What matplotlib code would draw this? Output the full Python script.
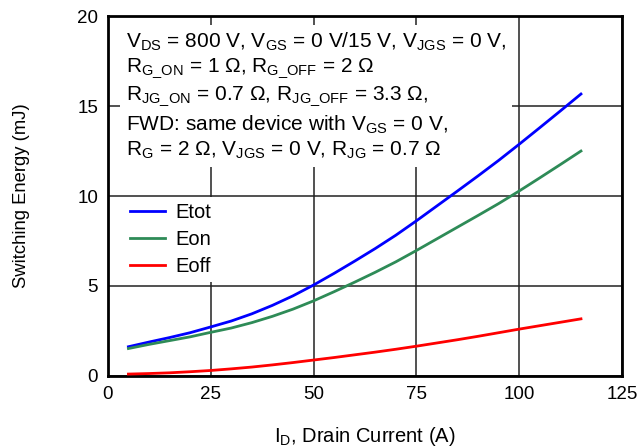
import numpy as np
import matplotlib
matplotlib.use("Agg")
import matplotlib.pyplot as plt

plt.rcParams['font.family'] = ['Liberation Sans', 'DejaVu Sans']
plt.rcParams['mathtext.fontset'] = 'custom'
plt.rcParams['mathtext.rm'] = 'Liberation Sans'

# drain current (A) and switching energies (mJ)
current = [5, 10, 15, 20, 25, 30, 35, 40, 45, 50, 55, 60, 65, 70, 75, 80,
           85, 90, 95, 100, 105, 110, 115]
etot = [1.62, 1.88, 2.13, 2.40, 2.72, 3.05, 3.45, 3.92, 4.45, 5.05, 5.70,
        6.38, 7.08, 7.82, 8.62, 9.45, 10.28, 11.12, 11.98, 12.88, 13.80,
        14.73, 15.67]
eoff = [0.10, 0.13, 0.17, 0.23, 0.30, 0.39, 0.49, 0.61, 0.74, 0.88, 1.02,
        1.17, 1.32, 1.48, 1.65, 1.83, 2.01, 2.20, 2.40, 2.60, 2.79, 2.98,
        3.17]
eon = [1.52, 1.75, 1.96, 2.17, 2.42, 2.66, 2.96, 3.31, 3.71, 4.17, 4.68,
       5.21, 5.76, 6.34, 6.97, 7.62, 8.27, 8.92, 9.58, 10.28, 11.01, 11.75,
       12.50]

xticks = [0, 25, 50, 75, 100, 125]
yticks = [0, 5, 10, 15, 20]

conditions = "\n".join([
    r"V$_{\rm DS}$ = 800 V, V$_{\rm GS}$ = 0 V/15 V, V$_{\rm JGS}$ = 0 V,",
    r"R$_{\rm G\_ON}$ = 1 Ω, R$_{\rm G\_OFF}$ = 2 Ω",
    r"R$_{\rm JG\_ON}$ = 0.7 Ω, R$_{\rm JG\_OFF}$ = 3.3 Ω,",
    r"FWD: same device with V$_{\rm GS}$ = 0 V,",
    r"R$_{\rm G}$ = 2 Ω, V$_{\rm JGS}$ = 0 V, R$_{\rm JG}$ = 0.7 Ω",
])

fig = plt.figure(figsize=(6.42, 4.48), dpi=100)
ax = fig.add_axes([0.168, 0.161, 0.801, 0.803])

# curves sit above the white box behind the test conditions
ax.plot(current, etot, color='#0000ff', lw=2, label='Etot', zorder=4.5)
ax.plot(current, eon, color='#2e8b57', lw=2, label='Eon', zorder=4.5)
ax.plot(current, eoff, color='#ff0000', lw=2, label='Eoff', zorder=4.5)

ax.set_xlim(0, 125)
ax.set_ylim(0, 20)
ax.set_xticks(xticks)
ax.set_yticks(yticks)
ax.grid(True, color='#222222', lw=1.1)
ax.set_axisbelow(True)
ax.tick_params(length=0, labelsize=13.5, pad=7)
for s in ax.spines.values():
    s.set_linewidth(2)

ax.set_xlabel(r"I$_{\rm D}$, Drain Current (A)", fontsize=14.5, labelpad=16)
ax.set_ylabel("Switching Energy (mJ)", fontsize=13.3, labelpad=34)

ax.text(0.035, 0.96, conditions, transform=ax.transAxes, fontsize=15,
        va='top', ha='left', linespacing=1.25, zorder=4,
        bbox=dict(facecolor='white', edgecolor='none', pad=4))

leg = ax.legend(loc='upper left', bbox_to_anchor=(0.031, 0.496),
                borderaxespad=0, fontsize=14.5, frameon=True, fancybox=False,
                handlelength=1.75, handletextpad=0.5, labelspacing=0.38,
                borderpad=0.3)
leg.set_zorder(3.5)
leg.get_frame().set_edgecolor('none')
leg.get_frame().set_facecolor('white')
leg.get_frame().set_alpha(1)

fig.savefig("out.png", dpi=100)
